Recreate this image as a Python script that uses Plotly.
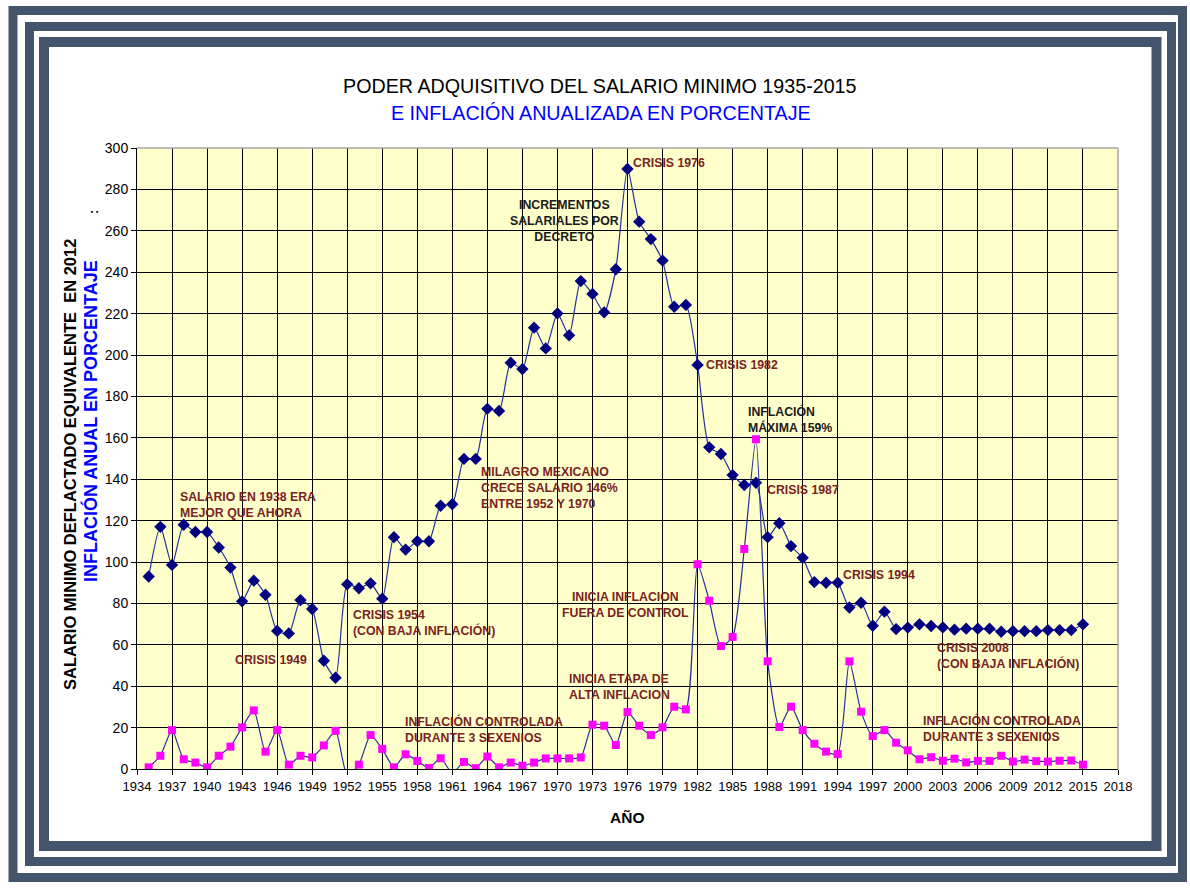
import plotly.graph_objects as go

years = list(range(1935, 2016))

salario = [93, 117, 98.6, 118, 114.5, 114.5, 107, 97.3, 81, 91,
           84.2, 66.7, 65.5, 81.6, 77.3, 52.3, 44.1, 89.2, 87.3, 89.7,
           82.3, 112, 106, 110, 110, 127.2, 127.9, 149.8, 149.8, 174,
           173, 196.3, 193.2, 213.2, 203.2, 220.1, 209.5, 235.7, 229.5, 220.6,
           241.4, 289.9, 264.4, 256, 245.6, 223.3, 224.2, 195.2, 155.4, 152.2,
           142, 137.2, 138.3, 112, 118.7, 107.7, 102, 90.3, 90, 90,
           78, 80.3, 69.2, 76, 67.6, 68.3, 69.9, 69.1, 68.4, 67.3,
           67.8, 67.8, 67.8, 66.3, 66.6, 66.6, 66.6, 67.1, 67.1, 67.1,
           69.9]

inflacion = [0.8, 6.4, 18.8, 4.7, 3.1, 0.8, 6.4, 10.8, 20.1, 28.3,
             8.4, 18.8, 2.1, 6.4, 5.6, 11.4, 18.4, -3, 2.1, 16.4,
             9.7, 0.8, 7.1, 3.9, 0.5, 5.2, -2, 3.4, 0.4, 6,
             0.8, 3.1, 1.6, 3.1, 5.1, 5.1, 5.1, 5.6, 21.4, 20.9,
             11.6, 27.5, 20.9, 16.4, 20.1, 30.1, 28.8, 98.9, 81.3, 59.4,
             63.8, 106.3, 159.3, 52, 20.3, 30.1, 18.8, 12.2, 8.4, 7.2,
             52, 27.7, 15.9, 18.8, 12.7, 9, 4.7, 5.7, 4, 5,
             3.2, 3.9, 3.9, 6.4, 3.6, 4.5, 3.8, 3.6, 4, 4.1,
             2.1]

x_ticks = list(range(1934, 2019, 3))

# text notes: (left/center pixel x, pixel y of block centre, text, align, colour)
MAROON = "#7A2222"
DARK = "#1A1A1A"
notes = [
    (181, 504.5, "SALARIO EN 1938 ERA<br>MEJOR QUE AHORA", "left", MAROON),
    (236, 659.5, "CRISIS 1949", "left", MAROON),
    (354, 622.5, "CRISIS 1954<br>(CON BAJA INFLACIÓN)", "left", MAROON),
    (481.5, 488, "MILAGRO MEXICANO<br>CRECE SALARIO 146%<br>ENTRE 1952 Y 1970", "left", MAROON),
    (564, 221, "INCREMENTOS<br>SALARIALES POR<br>DECRETO", "center", DARK),
    (633.5, 163, "CRISIS 1976", "left", MAROON),
    (706.5, 365, "CRISIS 1982", "left", MAROON),
    (749, 419, "INFLACIÓN<br>MÁXIMA 159%", "left", DARK),
    (767.5, 489.5, "CRISIS 1987", "left", MAROON),
    (843.5, 574.5, "CRISIS 1994", "left", MAROON),
    (625, 604.5, "INICIA INFLACION<br>FUERA DE CONTROL", "center", MAROON),
    (570, 686.5, "INICIA ETAPA DE<br>ALTA INFLACION", "left", MAROON),
    (406, 729.5, "INFLACIÓN CONTROLADA<br>DURANTE 3 SEXENIOS", "left", MAROON),
    (937.5, 656, "CRISIS 2008<br>(CON BAJA INFLACIÓN)", "left", MAROON),
    (924, 728, "INFLACIÓN CONTROLADA<br>DURANTE 3 SEXENIOS", "left", MAROON),
]

W, H = 1190, 888
L, R, T, B = 137, 72, 148, 119
PW, PH = W - L - R, H - T - B


def px(x):
    return (x - L) / PW


def py(y):
    return (H - B - y) / PH


FRAME = "#45546D"
LINE = "#24309A"
FONT = "Liberation Sans, Arial"

fig = go.Figure()
fig.add_trace(go.Scatter(
    x=years, y=salario, mode="lines+markers",
    line=dict(color=LINE, width=1.2, shape="spline", smoothing=0.6),
    marker=dict(symbol="diamond", size=9.5, color="#000080"),
    name="Salario", showlegend=False))
fig.add_trace(go.Scatter(
    x=years, y=inflacion, mode="lines+markers",
    line=dict(color=LINE, width=1.2, shape="spline", smoothing=0.6),
    marker=dict(symbol="square", size=8, color="#FF00FF"),
    name="Inflación", showlegend=False))

shapes = []
for (x0, y0, x1, y1, w) in [(13, 10.5, 1182.5, 877.5, 9),
                            (29.5, 26.5, 1171.5, 861.5, 9),
                            (44, 42, 1156.5, 846, 10)]:
    shapes.append(dict(type="rect", xref="paper", yref="paper",
                       x0=px(x0), x1=px(x1), y0=py(y0), y1=py(y1),
                       line=dict(color=FRAME, width=w), layer="above"))
shapes.append(dict(type="line", xref="paper", yref="paper", x0=0, x1=1, y0=1, y1=1,
                   line=dict(color="#A6A6A6", width=1.5)))
shapes.append(dict(type="line", xref="paper", yref="paper", x0=1, x1=1, y0=0, y1=1,
                   line=dict(color="#A6A6A6", width=1.5)))

annotations = []
for (xp, yp, txt, al, col) in notes:
    annotations.append(dict(
        x=px(xp - 3) if al == "left" else px(xp), y=py(yp), xref="paper", yref="paper",
        text="<b>" + txt + "</b>", showarrow=False,
        xanchor="left" if al == "left" else "center", yanchor="middle", align=al,
        font=dict(family=FONT, size=12.3, color=col)))

annotations += [
    dict(xref="paper", yref="paper", x=px(600), y=py(86),
         text="PODER ADQUISITIVO DEL SALARIO MINIMO 1935-2015",
         showarrow=False, xanchor="center", yanchor="middle",
         font=dict(family=FONT, size=19.7, color="black")),
    dict(xref="paper", yref="paper", x=px(601), y=py(113),
         text="E INFLACIÓN ANUALIZADA EN PORCENTAJE",
         showarrow=False, xanchor="center", yanchor="middle",
         font=dict(family=FONT, size=19.7, color="#0000FF")),
    dict(xref="paper", yref="paper", x=px(70), y=py(465),
         text="<b>SALARIO MINIMO DEFLACTADO EQUIVALENTE  EN 2012</b>",
         showarrow=False, textangle=-90, xanchor="center", yanchor="middle",
         font=dict(family=FONT, size=16.5, color="black")),
    dict(xref="paper", yref="paper", x=px(91), y=py(421),
         text="<b>INFLACIÓN ANUAL EN PORCENTAJE</b>",
         showarrow=False, textangle=-90, xanchor="center", yanchor="middle",
         font=dict(family=FONT, size=18, color="#0000FF")),
    dict(xref="paper", yref="paper", x=px(93), y=py(212), text="<b>:</b>",
         showarrow=False, textangle=-90, xanchor="center", yanchor="middle",
         font=dict(family=FONT, size=13, color="black")),
    dict(xref="paper", yref="paper", x=px(627), y=py(818), text="<b>AÑO</b>",
         showarrow=False, xanchor="center", yanchor="middle",
         font=dict(family=FONT, size=15.5, color="black")),
]

fig.update_layout(
    width=W, height=H, autosize=False,
    margin=dict(l=L, r=R, t=T, b=B, pad=0),
    paper_bgcolor="white", plot_bgcolor="#FFFFCC",
    shapes=shapes, annotations=annotations, showlegend=False,
)
fig.update_xaxes(range=[1934, 2018], tickmode="array", tickvals=x_ticks,
                 ticktext=[str(v) for v in x_ticks],
                 showgrid=True, gridcolor="black", gridwidth=1,
                 showline=True, linecolor="black", linewidth=1,
                 ticks="outside", ticklen=5, tickcolor="black",
                 tickfont=dict(family=FONT, size=13, color="black"),
                 zeroline=False)
fig.update_yaxes(range=[0, 300], dtick=20, tick0=0,
                 showgrid=True, gridcolor="black", gridwidth=1,
                 showline=True, linecolor="black", linewidth=1,
                 ticks="outside", ticklen=5, tickcolor="black",
                 tickfont=dict(family=FONT, size=14, color="black"),
                 zeroline=False)

fig.write_html("out.html", include_plotlyjs=True, full_html=True,
               config={"responsive": False, "displayModeBar": False},
               post_script="document.body.style.margin='0';document.body.style.padding='0';")
